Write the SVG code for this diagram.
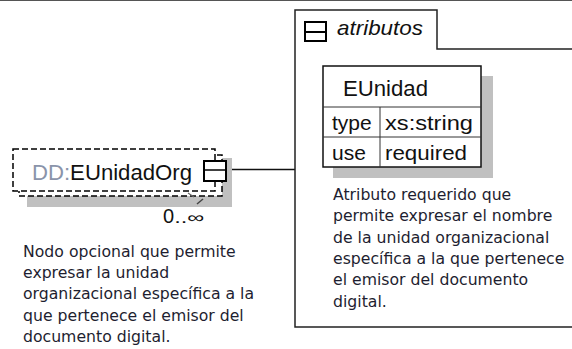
<svg xmlns="http://www.w3.org/2000/svg" width="572" height="349" viewBox="0 0 572 349">
<style>
.dash{fill:#fff;stroke:#000;stroke-width:1.5;stroke-dasharray:6,3}
.shadow{fill:#c0c0c0}
.desc{font-family:"DejaVu Sans",Verdana,sans-serif;font-size:15.7px;fill:#1e1e30}
.lbl{font-family:"Liberation Sans",Arial,sans-serif;fill:#111}
.icon{fill:#fff;stroke:#000;stroke-width:2}
.cell{fill:#fff;stroke:#111;stroke-width:1.5}
.grid{stroke:#333;stroke-width:1}
</style>
<rect width="572" height="349" fill="#fff"/>
<line x1="0" y1="0.5" x2="572" y2="0.5" stroke="#555" stroke-width="1.2"/>

<g id="connectors">
  <line x1="227" y1="169.5" x2="295" y2="169.5" stroke="#111" stroke-width="1.5"/>
</g>

<g id="attributes">
  <path d="M295,10 H437 V49 H580 V327 H295 Z" fill="#fff" stroke="#222" stroke-width="1.5"/>
  <rect class="icon" x="305" y="22" width="21" height="19"/>
  <line x1="305" y1="32" x2="326" y2="32" stroke="#000" stroke-width="2"/>
  <text class="lbl" x="337" y="35" font-size="21" font-style="italic" textLength="86" lengthAdjust="spacingAndGlyphs" fill="#1a1a3a">atributos</text>
  <g id="attr-EUnidad">
    <rect class="shadow" x="333" y="76" width="160" height="102"/>
    <rect class="cell" x="323" y="66" width="158" height="101"/>
    <line class="grid" x1="323" y1="107" x2="481" y2="107"/>
    <line class="grid" x1="323" y1="137" x2="481" y2="137"/>
    <line class="grid" x1="380" y1="107" x2="380" y2="167"/>
    <text class="lbl" x="343" y="96" font-size="22" textLength="85" lengthAdjust="spacingAndGlyphs">EUnidad</text>
    <text class="lbl" x="332" y="130" font-size="21">type</text>
    <text class="lbl" x="385" y="130" font-size="21" textLength="88" lengthAdjust="spacingAndGlyphs">xs:string</text>
    <text class="lbl" x="332" y="160" font-size="21">use</text>
    <text class="lbl" x="385" y="160" font-size="21" textLength="82" lengthAdjust="spacingAndGlyphs">required</text>
  </g>
  <text class="desc">
    <tspan x="333" y="200">Atributo requerido que</tspan>
    <tspan x="333" y="221.3">permite expresar el nombre</tspan>
    <tspan x="333" y="242.6">de la unidad organizacional</tspan>
    <tspan x="333" y="263.9">específica a la que pertenece</tspan>
    <tspan x="333" y="285.2">el emisor del documento</tspan>
    <tspan x="333" y="306.5">digital.</tspan>
  </text>
</g>

<g id="element-EUnidadOrg">
  <rect class="shadow" x="27" y="158" width="205" height="49"/>
  <rect class="dash" x="19" y="155" width="203" height="41"/>
  <rect class="dash" x="13" y="149" width="202" height="42"/>
  <text class="lbl" x="32" y="180" font-size="22" textLength="160" lengthAdjust="spacingAndGlyphs"><tspan fill="#8a94aa">DD:</tspan>EUnidadOrg</text>
  <rect class="icon" x="204" y="161" width="22" height="20"/>
  <line x1="205" y1="170" x2="225" y2="170" stroke="#000" stroke-width="1.5"/>
  <polyline points="188,193 194,197" fill="none" stroke="#666" stroke-width="1.2"/>
  <polyline points="197,204 203,199" fill="none" stroke="#444" stroke-width="1.5"/>
  <text class="lbl" x="163" y="223" font-size="20" fill="#1a1a3a">0<tspan font-size="16" textLength="30" lengthAdjust="spacingAndGlyphs">..∞</tspan></text>
  <text class="desc">
    <tspan x="23" y="257">Nodo opcional que permite</tspan>
    <tspan x="23" y="278.2">expresar la unidad</tspan>
    <tspan x="23" y="299.4">organizacional específica a la</tspan>
    <tspan x="23" y="320.6">que pertenece el emisor del</tspan>
    <tspan x="23" y="341.8">documento digital.</tspan>
  </text>
</g>
</svg>
